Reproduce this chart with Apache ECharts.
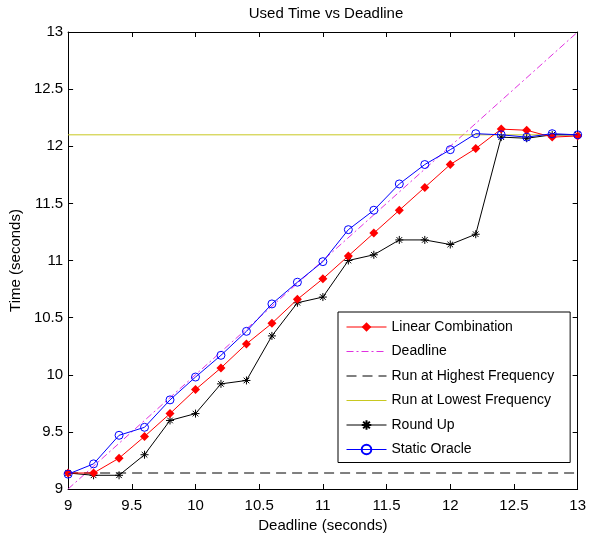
<!DOCTYPE html>
<html>
<head>
    <meta charset="utf-8">
    <title>Used Time vs Deadline</title>
    <script src="https://cdn.jsdelivr.net/npm/echarts@6/dist/echarts.min.js"></script>
</head>
<body style="margin:0">
    <div id="main" style="width:589px;height:544px;"></div>
    <script type="text/javascript">
      // deadlines on x axis
      var deadlines = [9, 9.2, 9.4, 9.6, 9.8, 10, 10.2, 10.4, 10.6, 10.8, 11, 11.2, 11.4, 11.6, 11.8, 12, 12.2, 12.4, 12.6, 12.8, 13];
      var linearComb = [9.14, 9.14, 9.27, 9.46, 9.66, 9.87, 10.06, 10.27, 10.45, 10.66, 10.84, 11.04, 11.24, 11.44, 11.64, 11.84, 11.98, 12.15, 12.14, 12.08, 12.09];
      var roundUp = [9.14, 9.12, 9.12, 9.3, 9.6, 9.66, 9.92, 9.95, 10.34, 10.63, 10.68, 11.0, 11.05, 11.18, 11.18, 11.14, 11.23, 12.08, 12.07, 12.1, 12.1];
      var staticOracle = [9.13, 9.22, 9.47, 9.54, 9.78, 9.98, 10.17, 10.38, 10.62, 10.81, 10.99, 11.27, 11.44, 11.67, 11.84, 11.97, 12.11, 12.1, 12.08, 12.11, 12.1];
      var highestFreq = 9.14;
      var lowestFreq = 12.1;
      var xTicks = [9, 9.5, 10, 10.5, 11, 11.5, 12, 12.5, 13];

      function pairs(ys) {
        return deadlines.map(function (d, i) { return [d, ys[i]]; });
      }
      var first = deadlines[0], last = deadlines[deadlines.length - 1];

      var font = 'Liberation Sans, Arial, sans-serif';
      var star = 'path://M5,0L5,10M0,5L10,5M1.5,1.5L8.5,8.5M8.5,1.5L1.5,8.5';
      var red = '#ff0000', magenta = '#e030e0', yellow = '#c8c820', blue = '#0000ff';

      var axisCommon = {
        type: 'value', min: 9, max: 13, interval: 0.5,
        splitLine: {show: false},
        axisLine: {show: true, onZero: false, lineStyle: {color: '#000', width: 1}},
        axisTick: {show: true, inside: true, length: 5, lineStyle: {color: '#000'}},
        axisLabel: {color: '#000', fontSize: 15, fontFamily: font}
      };

      var echart = echarts.init(document.getElementById('main'));
      var option = {
        animation: false,
        backgroundColor: '#fff',
        title: {
          text: 'Used Time vs Deadline', left: 321, top: 1, textAlign: 'center',
          textStyle: {fontSize: 15, fontWeight: 'normal', color: '#000', fontFamily: font}
        },
        grid: {left: 67, right: 9, top: 32, bottom: 55},
        xAxis: [
          Object.assign({}, axisCommon, {
            name: 'Deadline (seconds)', nameLocation: 'middle', nameGap: 27,
            nameTextStyle: {fontSize: 15, color: '#000', fontFamily: font},
            axisLabel: {color: '#000', fontSize: 15, fontFamily: font, margin: 9,
              formatter: function (v) { return xTicks.indexOf(v) >= 0 ? String(v) : ''; }}
          }),
          Object.assign({}, axisCommon, {position: 'top', axisLabel: {show: false}})
        ],
        yAxis: [
          Object.assign({}, axisCommon, {
            name: 'Time (seconds)', nameLocation: 'middle', nameGap: 41,
            nameTextStyle: {fontSize: 15, color: '#000', fontFamily: font},
            axisLabel: {color: '#000', fontSize: 15, fontFamily: font, margin: 5}
          }),
          Object.assign({}, axisCommon, {position: 'right', axisLabel: {show: false}})
        ],
        legend: {
          orient: 'vertical', left: 338, top: 312,
          padding: [8, 16, 6, 8],
          itemWidth: 40, itemHeight: 12, itemGap: 10.5,
          borderColor: '#000', borderWidth: 1, backgroundColor: '#fff',
          textStyle: {fontSize: 14, color: '#000', fontFamily: font},
          data: [
            {name: 'Linear Combination', lineStyle: {width: 1, color: red}},
            {name: 'Deadline', itemStyle: {opacity: 0}, lineStyle: {width: 1, color: magenta, type: [7, 3, 2, 3]}},
            {name: 'Run at Highest Frequency', itemStyle: {opacity: 0}, lineStyle: {width: 1, color: '#000', type: [10, 6]}},
            {name: 'Run at Lowest Frequency', itemStyle: {opacity: 0}, lineStyle: {width: 1, color: yellow}},
            {name: 'Round Up', lineStyle: {width: 1, color: '#000'}},
            {name: 'Static Oracle', lineStyle: {width: 1, color: blue}}
          ]
        },
        series: [
          {name: 'Linear Combination', type: 'line', data: pairs(linearComb),
            symbol: 'diamond', symbolSize: 9, z: 4,
            lineStyle: {color: red, width: 1}, itemStyle: {color: red}},
          {name: 'Deadline', type: 'line', data: [[first, first], [last, last]],
            symbol: 'none',
            lineStyle: {color: magenta, width: 1, type: [7, 3, 2, 3]}, itemStyle: {color: magenta}},
          {name: 'Run at Highest Frequency', type: 'line', data: [[first, highestFreq], [last, highestFreq]],
            symbol: 'none',
            lineStyle: {color: '#000', width: 1, type: [10, 6]}, itemStyle: {color: '#000'}},
          {name: 'Run at Lowest Frequency', type: 'line', data: [[first, lowestFreq], [last, lowestFreq]],
            symbol: 'none',
            lineStyle: {color: yellow, width: 1}, itemStyle: {color: yellow}},
          {name: 'Round Up', type: 'line', data: pairs(roundUp),
            symbol: star, symbolSize: 8, z: 3,
            lineStyle: {color: '#000', width: 1},
            itemStyle: {color: '#000', borderColor: '#000', borderWidth: 1}},
          {name: 'Static Oracle', type: 'line', data: pairs(staticOracle),
            symbol: 'circle', symbolSize: 8, z: 5,
            lineStyle: {color: blue, width: 1},
            itemStyle: {color: 'rgba(255,255,255,0)', borderColor: blue, borderWidth: 1}}
        ]
      };
      echart.setOption(option);
    </script>
</body>
</html>
